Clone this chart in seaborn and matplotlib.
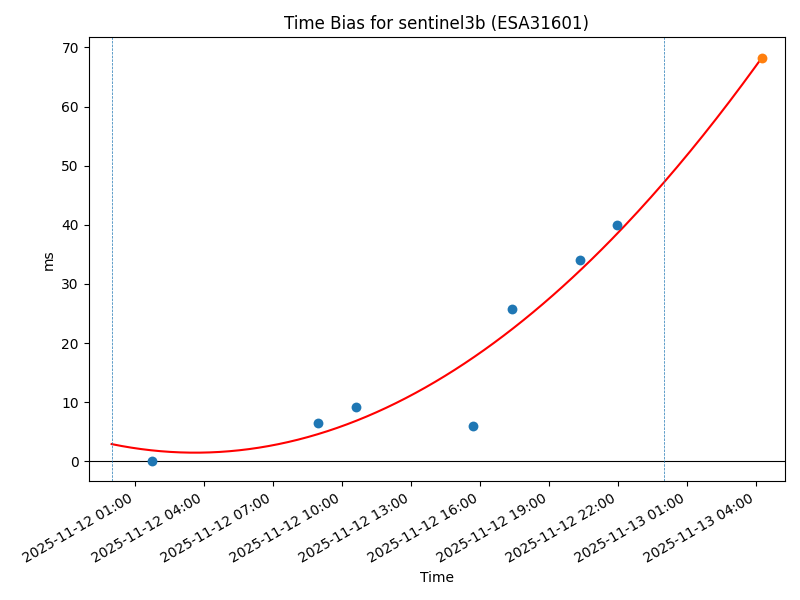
import numpy as np
import pandas as pd
import seaborn as sns
import matplotlib
matplotlib.use("Agg")
import matplotlib.pyplot as plt
import matplotlib.dates as mdates

# Mesures de biais temporel (ms) pour sentinel3b
times = ["2025-11-12 01:46", "2025-11-12 08:58", "2025-11-12 10:37", "2025-11-12 15:43",
         "2025-11-12 17:23", "2025-11-12 20:22", "2025-11-12 21:59"]
bias_ms = [0.0, 6.4, 9.1, 5.9, 25.8, 34.1, 40.0]

# Point prédit (orange) et bornes de la fenêtre
pred_time = "2025-11-13 04:16"
pred_ms = 68.3
window = ["2025-11-12 00:00", "2025-11-13 00:00"]

fit_anchor_times = ["2025-11-12 00:00", "2025-11-12 16:00", "2025-11-13 04:16"]
fit_anchor_ms = [2.9, 18.3, 68.3]

df = pd.DataFrame({"time": pd.to_datetime(times), "bias": bias_ms})
pred_df = pd.DataFrame({"time": [pd.Timestamp(pred_time)], "bias": [pred_ms]})

t0 = pd.Timestamp(window[0])
t_pred = pd.Timestamp(pred_time)
anchor_h = (pd.to_datetime(fit_anchor_times) - t0).total_seconds() / 3600
coef = np.polyfit(anchor_h, fit_anchor_ms, 2)  # courbe quadratique
h_fit = np.linspace(0, (t_pred - t0).total_seconds() / 3600, 200)
fit_df = pd.DataFrame({"time": t0 + pd.to_timedelta(h_fit, unit="h"), "bias": np.polyval(coef, h_fit)})

fig, ax = plt.subplots(figsize=(8, 6), dpi=100)

sns.lineplot(data=fit_df, x="time", y="bias", color="red", linewidth=1.5, ax=ax)
sns.scatterplot(data=df, x="time", y="bias", color="#1f77b4", s=50, linewidth=0, ax=ax, zorder=3)
sns.scatterplot(data=pred_df, x="time", y="bias", color="#ff7f0e", s=50, linewidth=0, ax=ax, zorder=3)

ax.axhline(0, color="black", linewidth=0.8)
for w in window:
    ax.axvline(pd.Timestamp(w), color="#1f77b4", linestyle="--", linewidth=0.5)

ax.set_xlim(t0 - pd.Timedelta(hours=1), t_pred + pd.Timedelta(hours=1))
ax.xaxis.set_major_locator(mdates.HourLocator(byhour=range(1, 24, 3)))
ax.xaxis.set_major_formatter(mdates.DateFormatter("%Y-%m-%d %H:%M"))
fig.autofmt_xdate()

ax.set_title("Time Bias for sentinel3b (ESA31601)")
ax.set_xlabel("Time")
ax.set_ylabel("ms")
fig.tight_layout()
fig.savefig("out.png")
